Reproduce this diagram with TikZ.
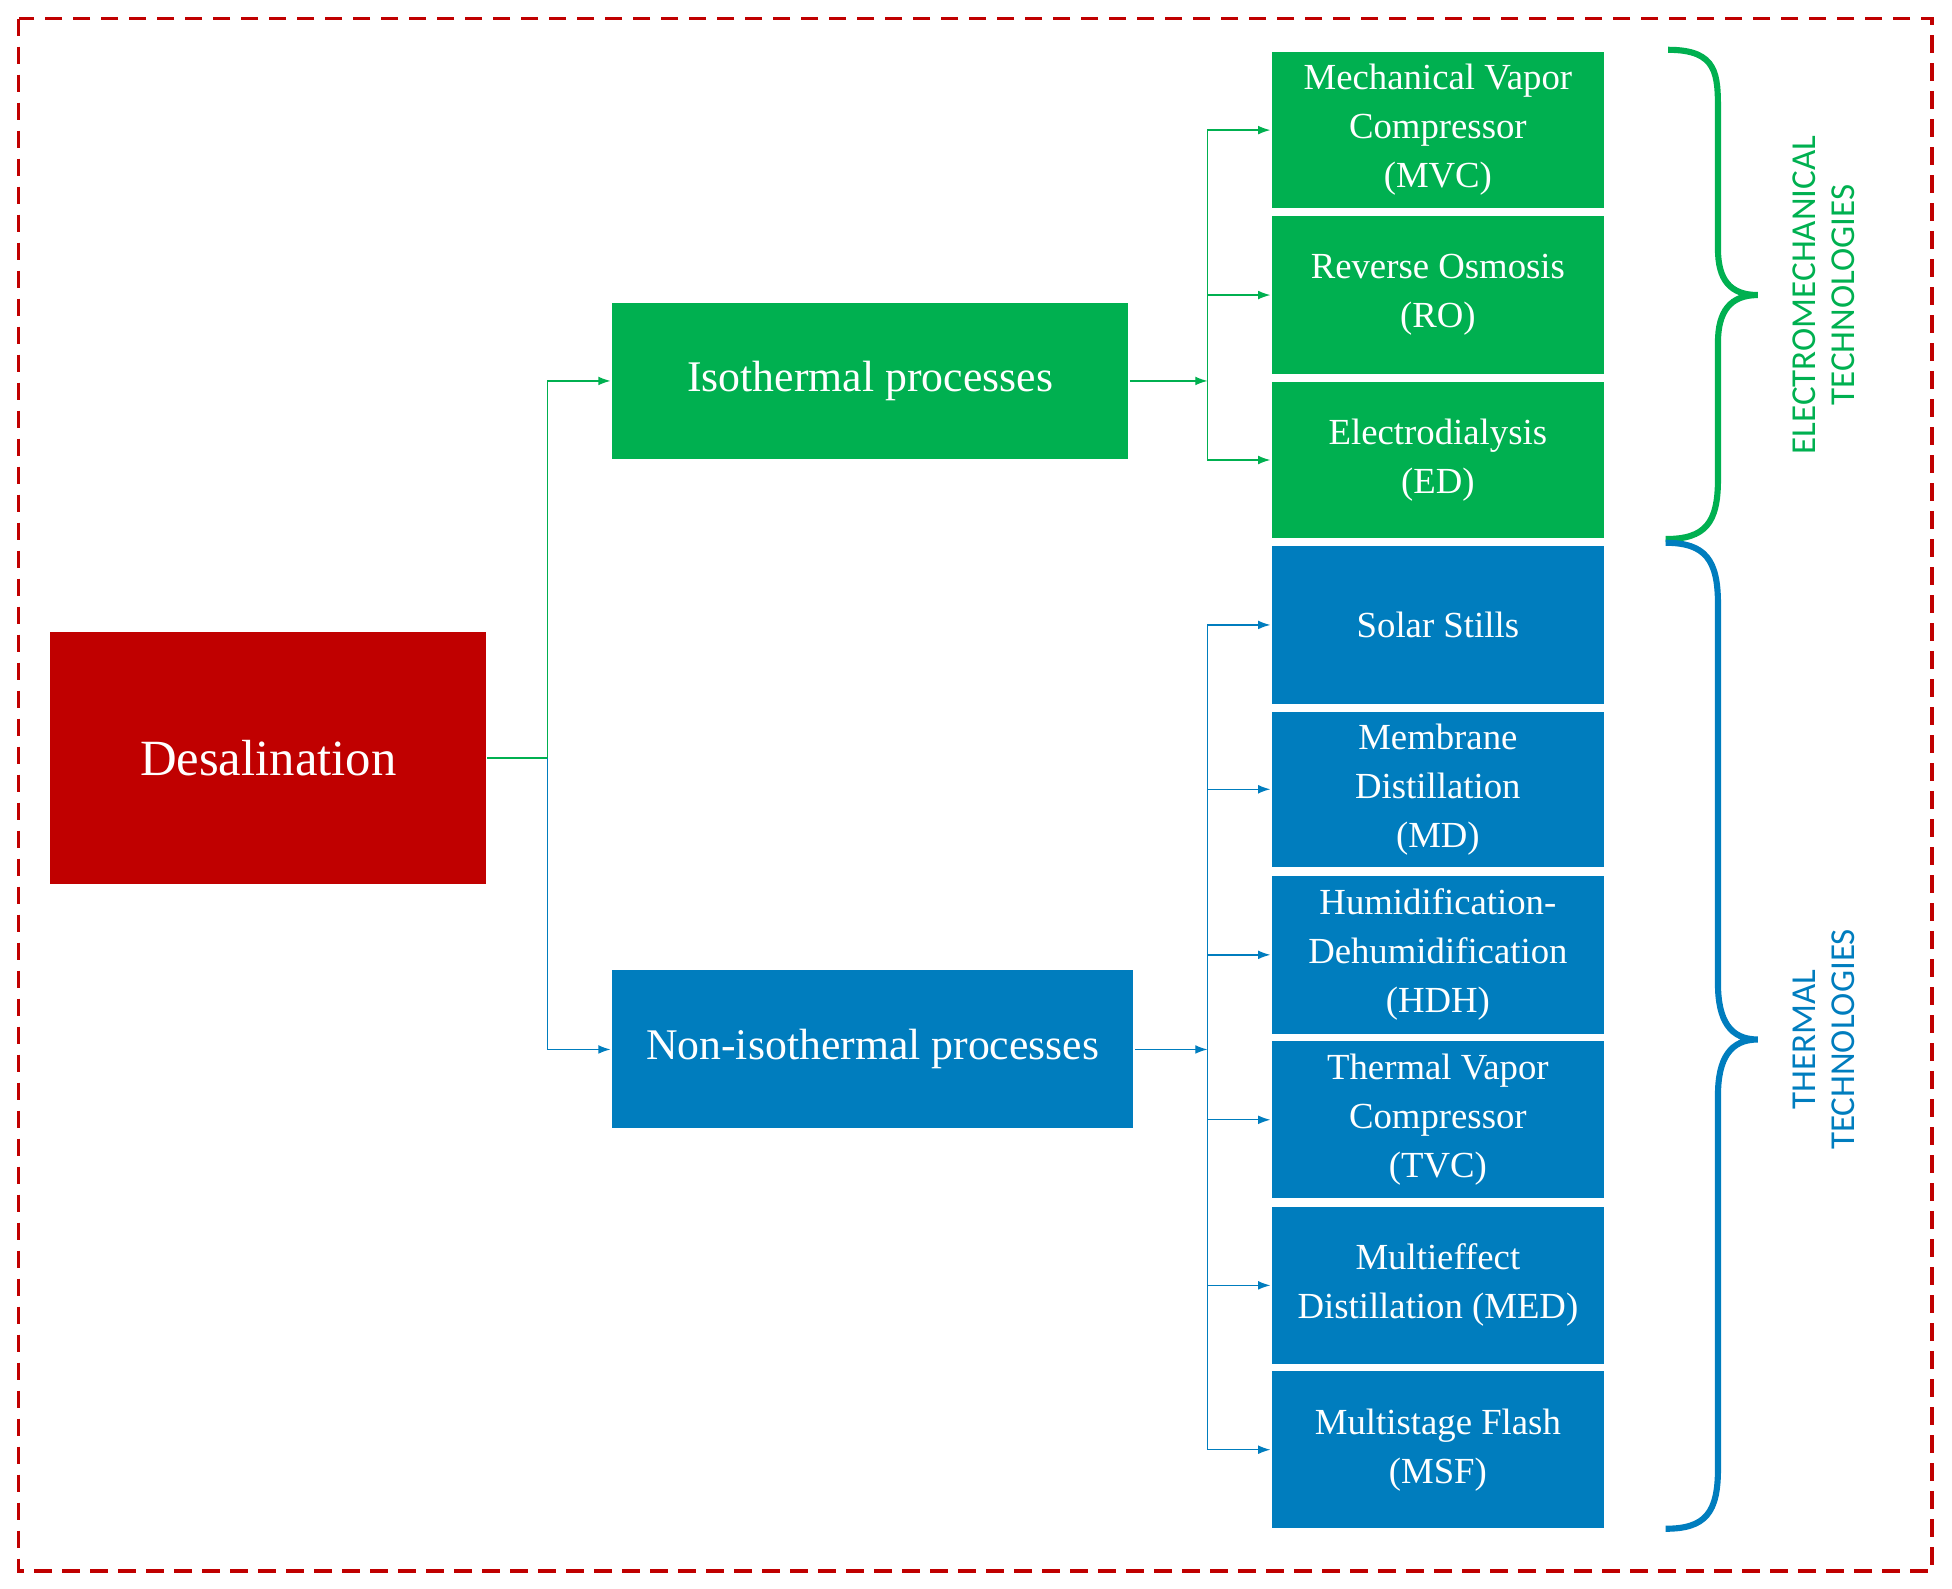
\documentclass[tikz,border=0pt]{standalone}
\usepackage{fontspec}
\setmainfont{Liberation Serif}
\newfontfamily\lab{Carlito}
\usetikzlibrary{arrows.meta}
\definecolor{gr}{RGB}{0,176,80}
\definecolor{bl}{RGB}{0,125,190}
\definecolor{dr}{RGB}{192,0,0}
\begin{document}
\begin{tikzpicture}[x=0.05cm,y=-0.05cm,
 box/.style={draw=white,line width=1.5pt,text=white,align=center,inner sep=0pt},
 sm/.style={box,minimum width=268*0.05cm,font=\fontsize{42}{56}\selectfont},
 g/.style={fill=gr}, b/.style={fill=bl},
 gl/.style={draw=gr,line width=1.5pt,-{Latex[length=14pt,width=10pt]}},
 bll/.style={draw=bl,line width=1.5pt,-{Latex[length=14pt,width=10pt]}},
 lbl/.style={font=\lab\fontsize{40}{44}\selectfont,rotate=90,align=center}]
\useasboundingbox (0,0) rectangle (1568,1276);
\draw[dr,line width=4pt,dash pattern=on 20pt off 12pt] (15,15) rectangle (1552,1262);
\node[box,fill=dr,minimum width=351*0.05cm,minimum height=204*0.05cm,font=\fontsize{58}{60}\selectfont] (des) at (215.5,609) {Desalination};
\node[box,g,minimum width=416*0.05cm,minimum height=127*0.05cm,font=\fontsize{50}{56}\selectfont] (iso) at (699,306) {Isothermal processes};
\node[box,b,minimum width=420*0.05cm,minimum height=128*0.05cm,font=\fontsize{50}{56}\selectfont] (non) at (701,843) {Non-isothermal processes};
\foreach \n/\c/\y/\h/\t in {mvc/g/104.5/127/{Mechanical Vapor\\Compressor\\(MVC)},ro/g/237/128/{Reverse Osmosis\\(RO)},ed/g/369.5/127/{Electrodialysis\\(ED)},
 ss/b/502/128/{Solar Stills},md/b/634/126/{Membrane\\Distillation\\(MD)},hdh/b/767/128/{Humidification-\\Dehumidification\\(HDH)},tvc/b/899.5/127/{Thermal Vapor\\Compressor\\(TVC)},med/b/1032.5/127/{Multieffect\\Distillation (MED)},msf/b/1164.5/127/{Multistage Flash\\(MSF)}}
 \node[sm,\c,minimum height=\h*0.05cm] (\n) at (1155,\y) {\t};
\coordinate (j1) at (440,609);
\draw[gr,line width=1.5pt] (des.east) -- (j1) -- (440,500);
\draw[gl] (440,500) |- (iso.west);
\draw[bll] (j1) |- (non.west);
\draw[gl] (iso.east) -- (970,306);
\coordinate (k1) at (970,306);
\foreach \n in {mvc,ro,ed} \draw[gl] (k1) |- (\n.west);
\draw[bll] (non.east) -- (970,843);
\coordinate (k2) at (970,843);
\foreach \n in {ss,md,hdh,tvc,med,msf} \draw[bll] (k2) |- (\n.west);
\draw[gr,line width=7pt] (1340,40) .. controls (1380,40) and (1380,60) .. (1380,90) -- (1380,200) .. controls (1380,225) and (1390,237) .. (1412,237) .. controls (1390,237) and (1380,250) .. (1380,275) -- (1380,385) .. controls (1380,420) and (1370,433) .. (1338,433);
\draw[bl,line width=7pt] (1338,436) .. controls (1370,436) and (1380,450) .. (1380,485) -- (1380,790) .. controls (1380,820) and (1390,835) .. (1412,835) .. controls (1390,835) and (1380,850) .. (1380,880) -- (1380,1180) .. controls (1380,1215) and (1370,1228) .. (1338,1228);
\node[lbl,text=gr] (l1) at (1465,237) {ELECTROMECHANICAL\\TECHNOLOGIES};
\node[lbl,text=bl] (l2) at (1465,835) {THERMAL\\TECHNOLOGIES};
\end{tikzpicture}
\end{document}
